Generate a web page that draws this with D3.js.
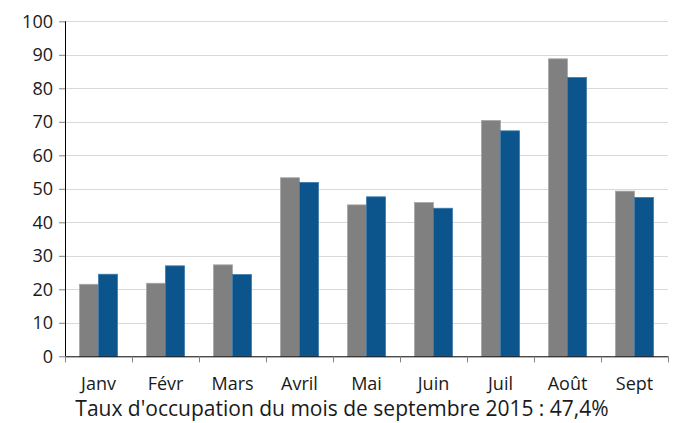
<!DOCTYPE html>
<html lang="fr">
<head>
<meta charset="utf-8">
<script src="https://cdn.jsdelivr.net/npm/d3@7"></script>
<style>
  body { margin: 0; background: #fff; overflow: hidden; }
  svg { display: block; }
  svg text { font-family: "Open Sans", sans-serif; fill: #1a1a1a; }
</style>
</head>
<body>
<script>
// Données
var mois = ["Janv", "Févr", "Mars", "Avril", "Mai", "Juin", "Juil", "Août", "Sept"];
var serieGris = [21.5, 21.8, 27.3, 53.3, 45.2, 45.9, 70.4, 88.8, 49.3];
var serieBleu = [24.5, 27.0, 24.4, 51.9, 47.6, 44.2, 67.3, 83.2, 47.4];
var yTicks = [0, 10, 20, 30, 40, 50, 60, 70, 80, 90, 100];
var titre = "Taux d'occupation du mois de septembre 2015 : 47,4%";

var w = 675, h = 423;
var mLeft = 65, mRight = 668, mTop = 21.3, mBottom = 356.3;

var svg = d3.select("body").append("svg")
  .attr("width", w)
  .attr("height", h);

var x = d3.scaleBand().domain(mois).range([mLeft, mRight]).paddingInner(0).paddingOuter(0);
var xLin = d3.scaleLinear().domain([0, mois.length]).range([mLeft, mRight]);
var y = d3.scaleLinear().domain([0, 100]).range([mBottom, mTop]);

var barW = 19;

// grille
svg.append("g")
  .selectAll("line")
  .data(yTicks.filter(function(d) { return d > 0; }))
  .enter().append("line")
  .attr("x1", mLeft).attr("x2", mRight)
  .attr("y1", function(d) { return Math.round(y(d)) + 0.5; })
  .attr("y2", function(d) { return Math.round(y(d)) + 0.5; })
  .attr("stroke", "#d9d9d9")
  .attr("stroke-width", 1);

// barres
var groupes = svg.append("g").selectAll("g")
  .data(mois)
  .enter().append("g");

groupes.append("rect")
  .attr("x", function(d) { return x(d) + x.bandwidth() / 2 - barW; })
  .attr("y", function(d, i) { return y(serieGris[i]); })
  .attr("width", barW)
  .attr("height", function(d, i) { return mBottom - y(serieGris[i]); })
  .attr("fill", "#808080")
  .attr("stroke", "#a6a6a6")
  .attr("stroke-width", 0.8);

groupes.append("rect")
  .attr("x", function(d) { return x(d) + x.bandwidth() / 2; })
  .attr("y", function(d, i) { return y(serieBleu[i]); })
  .attr("width", barW)
  .attr("height", function(d, i) { return mBottom - y(serieBleu[i]); })
  .attr("fill", "#0b558c")
  .attr("stroke", "#3d79a8")
  .attr("stroke-width", 0.8);

// axe Y
var yAxis = svg.append("g")
  .attr("transform", "translate(" + mLeft + ",0)")
  .call(d3.axisLeft(y).tickValues(yTicks).tickSize(6).tickPadding(6));
yAxis.selectAll("text").style("font-size", "18px");
yAxis.selectAll("line").attr("stroke", "#808080");
yAxis.select(".domain").attr("stroke", "#000").attr("d", "M0.5," + mTop + "V" + mBottom);

// axe X : graduations entre les catégories
var xTicks = svg.append("g")
  .attr("transform", "translate(0," + mBottom + ")")
  .call(d3.axisBottom(xLin).ticks(mois.length).tickSize(6).tickFormat(""));
xTicks.selectAll("line").attr("stroke", "#808080");
xTicks.select(".domain").attr("stroke", "#000").attr("d", "M" + mLeft + ",0.5H" + mRight);

// libellés des mois
var xLabels = svg.append("g")
  .attr("transform", "translate(0," + mBottom + ")")
  .call(d3.axisBottom(x).tickSize(0).tickPadding(21));
xLabels.select(".domain").remove();
xLabels.selectAll("text").style("font-size", "18px");

// titre sous le graphique
svg.append("text")
  .attr("x", 342)
  .attr("y", 416)
  .attr("text-anchor", "middle")
  .style("font-size", "21px")
  .text(titre);
</script>
</body>
</html>
